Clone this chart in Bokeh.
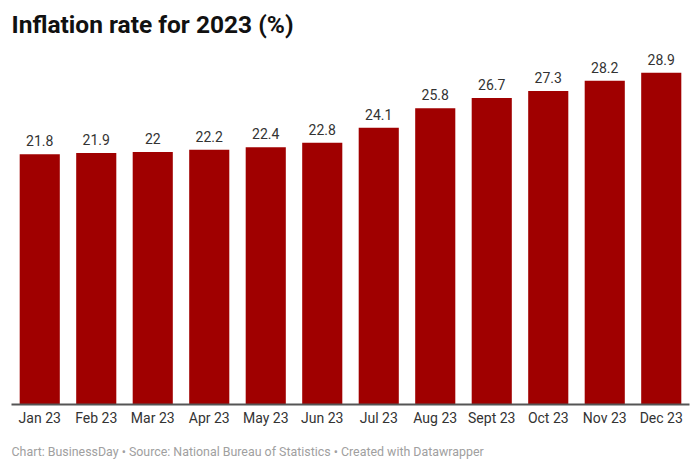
from bokeh.plotting import figure
from bokeh.models import ColumnDataSource, LabelSet, Title
from bokeh.core.properties import value
from bokeh.embed import file_html
from bokeh.resources import INLINE

months = ["Jan 23", "Feb 23", "Mar 23", "Apr 23", "May 23", "Jun 23",
          "Jul 23", "Aug 23", "Sept 23", "Oct 23", "Nov 23", "Dec 23"]
rates = [21.8, 21.9, 22.0, 22.2, 22.4, 22.8, 24.1, 25.8, 26.7, 27.3, 28.2, 28.9]
labels = ["21.8", "21.9", "22", "22.2", "22.4", "22.8", "24.1", "25.8", "26.7", "27.3", "28.2", "28.9"]
title_text = "Inflation rate for 2023 (%)"
footer_text = "Chart: BusinessDay \u2022 Source: National Bureau of Statistics \u2022 Created with Datawrapper"

src = ColumnDataSource(dict(m=months, r=rates, t=labels))

p = figure(x_range=months, y_range=(0, 31.71), width=692, height=472,
           output_backend="svg", toolbar_location=None,
           min_border_left=11, min_border_right=3, min_border_top=40, min_border_bottom=68)

p.title.text = title_text
p.title.text_font = "Roboto"
p.title.text_font_size = "24.5px"
p.title.text_font_style = "bold"
p.title.text_color = "#111111"
p.title.offset = 0
p.title.standoff = 3

p.vbar(x="m", top="r", width=0.71, source=src, color="#a00000", line_color=None)
p.add_layout(LabelSet(x="m", y="r", text="t", source=src, text_align="center",
                      text_baseline="alphabetic", y_offset=8,
                      text_font=value("Roboto"), text_font_size=value("14px"),
                      text_color=value("#333333")))

p.add_layout(Title(text=footer_text, text_font="Roboto", text_font_size="12.4px",
                   text_font_style="normal", text_color="#a0a0a0", align="left",
                   offset=0, standoff=27), "below")

p.yaxis.visible = False
p.xgrid.visible = False
p.ygrid.visible = False
p.outline_line_color = None
p.xaxis.axis_line_color = "#555555"
p.xaxis.axis_line_width = 2
p.xaxis.major_tick_line_color = None
p.xaxis.minor_tick_line_color = None
p.xaxis.major_tick_out = 0
p.xaxis.major_tick_in = 0
p.xaxis.major_label_standoff = 5
p.xaxis.major_label_text_font = "Roboto"
p.xaxis.major_label_text_font_size = "14px"
p.xaxis.major_label_text_color = "#333333"
p.x_range.range_padding = 0

open("out.html", "w").write(file_html(p, INLINE))
